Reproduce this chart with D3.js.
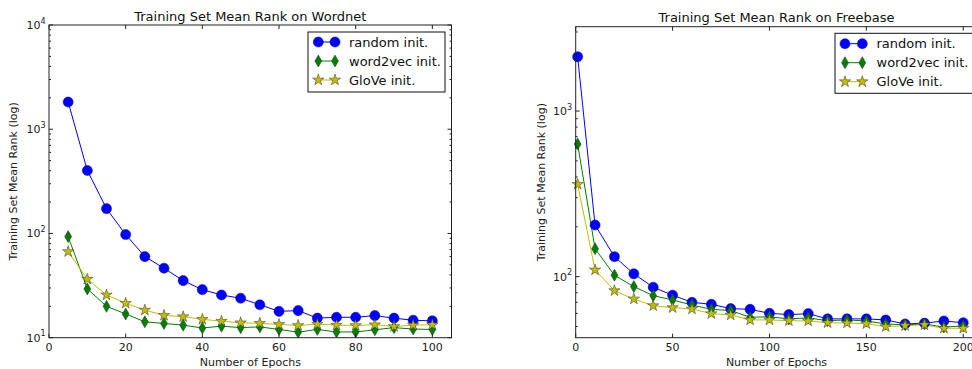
<!DOCTYPE html>
<html><head><meta charset="utf-8">
<script src="https://cdn.jsdelivr.net/npm/d3@7/dist/d3.min.js"></script>
<style>
body{margin:0;background:#fff;}
svg{display:block;font-family:"DejaVu Sans",sans-serif;}
</style></head>
<body><svg id="c" width="972" height="369"></svg>
<script>
// ---------- data ----------
const seriesNames = ["random init.", "word2vec init.", "GloVe init."];

const wnEpochs = [5,10,15,20,25,30,35,40,45,50,55,60,65,70,75,80,85,90,95,100];
const wnRandom = [1825,402,173,97.6,60,46.4,35.3,28.9,25.7,23.9,20.7,17.9,18.2,15.4,15.7,15.7,16.3,15.4,14.7,14.5];
const wnWord2vec = [93.3,29.4,20,16.9,14.2,13.7,13.2,12.4,12.9,12.5,12.7,12.0,11.3,12.0,11.35,11.35,11.9,12.5,12.1,12.0];
const wnGlove = [67,36.4,25.7,21.4,18.4,16.4,15.9,15.0,14.4,13.9,13.75,13.4,13.1,13.5,13.2,13.1,13.3,12.8,13.2,13.3];

const fbEpochs = [1,10,20,30,40,50,60,70,80,90,100,110,120,130,140,150,160,170,180,190,200];
const fbRandom = [2128,205,132,104,86.3,77.3,70,68.1,64.1,63.5,60.1,59,59.8,55.6,55.6,55.6,54.8,51.8,52.4,54.0,52.7];
const fbWord2vec = [632,147.5,102,87.1,76.8,72.3,67.4,63.5,62.4,56.9,57.2,55.6,56.4,54.2,54.8,54.0,51.8,51.2,51.8,49.6,50.4];
const fbGlove = [361,109.8,82.3,73.3,66.8,65.0,63.8,59.8,58.7,54.8,54.8,54.2,54.0,52.7,52.5,52.0,49.9,50.6,51.2,48.8,48.8];

const wnXTicks = [0,20,40,60,80,100];
const wnYTicks = [10,100,1000,10000];
const fbXTicks = [0,50,100,150,200];
const fbYTicks = [100,1000];

const titles = ["Training Set Mean Rank on Wordnet", "Training Set Mean Rank on Freebase"];
const xLabel = "Number of Epochs";
const yLabel = "Training Set Mean Rank (log)";

// ---------- styles ----------
const colors = ["#0000ff", "#008000", "#bfbf00"];
const svg = d3.select("#c");

const symCircle = d3.symbol().type(d3.symbolCircle).size(80)();
const symDiamond = d3.symbol().type(d3.symbolDiamond).size(42)();
const symStar = d3.symbol().type(d3.symbolStar).size(40)();
const symbols = [symCircle, symDiamond, symStar];

function drawChart(cfg) {
  const x = d3.scaleLinear().domain(cfg.xDomain).range([cfg.left, cfg.right]);
  const y = d3.scaleLog().domain(cfg.yDomain).range([cfg.bottom, cfg.top]);
  const g = svg.append("g");

  // series
  const series = [cfg.s0, cfg.s1, cfg.s2];
  const line = d3.line().x(d => x(d[0])).y(d => y(d[1]));
  series.forEach((vals, i) => {
    const pts = cfg.epochs.map((e, j) => [e, vals[j]]);
    g.append("path").attr("d", line(pts)).attr("fill", "none")
      .attr("stroke", colors[i]).attr("stroke-width", 1);
  });
  series.forEach((vals, i) => {
    const pts = cfg.epochs.map((e, j) => [e, vals[j]]);
    g.selectAll(null).data(pts).enter().append("path")
      .attr("d", symbols[i])
      .attr("transform", d => `translate(${x(d[0])},${y(d[1])})`)
      .attr("fill", colors[i]).attr("stroke", i === 0 ? "#0000aa" : "#333")
      .attr("stroke-width", 0.5);
  });

  // frame
  g.append("rect").attr("x", cfg.left).attr("y", cfg.top)
    .attr("width", cfg.right - cfg.left).attr("height", cfg.bottom - cfg.top)
    .attr("fill", "none").attr("stroke", "#222").attr("stroke-width", 1);

  // x ticks (inward, top and bottom)
  const tk = g.append("g").attr("stroke", "#222").attr("stroke-width", 1);
  cfg.xTicks.forEach(t => {
    const px = x(t);
    tk.append("line").attr("x1", px).attr("x2", px).attr("y1", cfg.bottom).attr("y2", cfg.bottom - 4);
    tk.append("line").attr("x1", px).attr("x2", px).attr("y1", cfg.top).attr("y2", cfg.top + 4);
    g.append("text").attr("x", px).attr("y", cfg.bottom + 13.5)
      .attr("text-anchor", "middle").attr("font-size", 11).attr("fill", "#222").text(t);
  });

  // y ticks major + minor
  const lo = Math.floor(Math.log10(cfg.yDomain[0])), hi = Math.ceil(Math.log10(cfg.yDomain[1]));
  for (let d = lo; d <= hi; d++) {
    for (let k = 2; k <= 9; k++) {
      const v = k * Math.pow(10, d);
      if (v < cfg.yDomain[0] || v > cfg.yDomain[1]) continue;
      const py = y(v);
      tk.append("line").attr("x1", cfg.left).attr("x2", cfg.left + 2).attr("y1", py).attr("y2", py);
      tk.append("line").attr("x1", cfg.right).attr("x2", cfg.right - 2).attr("y1", py).attr("y2", py);
    }
  }
  cfg.yTicks.forEach(t => {
    const py = y(t);
    tk.append("line").attr("x1", cfg.left).attr("x2", cfg.left + 4).attr("y1", py).attr("y2", py);
    tk.append("line").attr("x1", cfg.right).attr("x2", cfg.right - 4).attr("y1", py).attr("y2", py);
    const txt = g.append("text").attr("x", cfg.left - 3.5).attr("y", py + 4)
      .attr("text-anchor", "end").attr("font-size", 11).attr("fill", "#222");
    txt.append("tspan").text("10");
    txt.append("tspan").attr("font-size", 8).attr("dy", -5.5).text(Math.round(Math.log10(t)));
  });

  // title, labels
  g.append("text").attr("x", cfg.titleX).attr("y", cfg.titleY)
    .attr("text-anchor", "middle").attr("font-size", 13).attr("fill", "#111").text(cfg.title);
  g.append("text").attr("x", cfg.titleX).attr("y", 366)
    .attr("text-anchor", "middle").attr("font-size", 11).attr("fill", "#222").text(xLabel);
  g.append("text").attr("transform", `translate(${cfg.yLabelX},${(cfg.top + cfg.bottom) / 2}) rotate(-90)`)
    .attr("text-anchor", "middle").attr("dominant-baseline", "central")
    .attr("font-size", 11).attr("fill", "#222").text(yLabel);

  // legend
  const L = cfg.legend;
  g.append("rect").attr("x", L.x).attr("y", L.y).attr("width", L.w).attr("height", L.h)
    .attr("fill", "#fff").attr("stroke", "#111").attr("stroke-width", 1);
  seriesNames.forEach((name, i) => {
    const ry = L.rows[i];
    g.append("line").attr("x1", L.m1).attr("x2", L.m2).attr("y1", ry).attr("y2", ry)
      .attr("stroke", colors[i]).attr("stroke-width", 1);
    [L.m1, L.m2].forEach(mx => {
      g.append("path").attr("d", symbols[i]).attr("transform", `translate(${mx},${ry})`)
        .attr("fill", colors[i]).attr("stroke", i === 0 ? "#0000aa" : "#333").attr("stroke-width", 0.5);
    });
    g.append("text").attr("x", L.tx).attr("y", ry).attr("dominant-baseline", "central")
      .attr("font-size", 13).attr("fill", "#111").text(name);
  });
}

drawChart({
  epochs: wnEpochs, s0: wnRandom, s1: wnWord2vec, s2: wnGlove,
  xDomain: [0, 105], yDomain: [10, 10000],
  left: 49, right: 451.5, top: 25, bottom: 337.7,
  xTicks: wnXTicks, yTicks: wnYTicks, title: titles[0], titleX: 250.3, titleY: 20.5, yLabelX: 13.5,
  legend: {x: 308, y: 32, w: 137, h: 60, rows: [42, 61, 80], m1: 318.3, m2: 335, tx: 349}
});
drawChart({
  epochs: fbEpochs, s0: fbRandom, s1: fbWord2vec, s2: fbGlove,
  xDomain: [0, 207.1], yDomain: [42.8, 3230],
  left: 575.7, right: 977, top: 26.7, bottom: 337.7,
  xTicks: fbXTicks, yTicks: fbYTicks, title: titles[1], titleX: 776.5, titleY: 22, yLabelX: 541.5,
  legend: {x: 835, y: 33.3, w: 150, h: 60, rows: [43.7, 62.7, 81.7], m1: 845, m2: 862.3, tx: 876.5}
});
</script>
</body></html>
